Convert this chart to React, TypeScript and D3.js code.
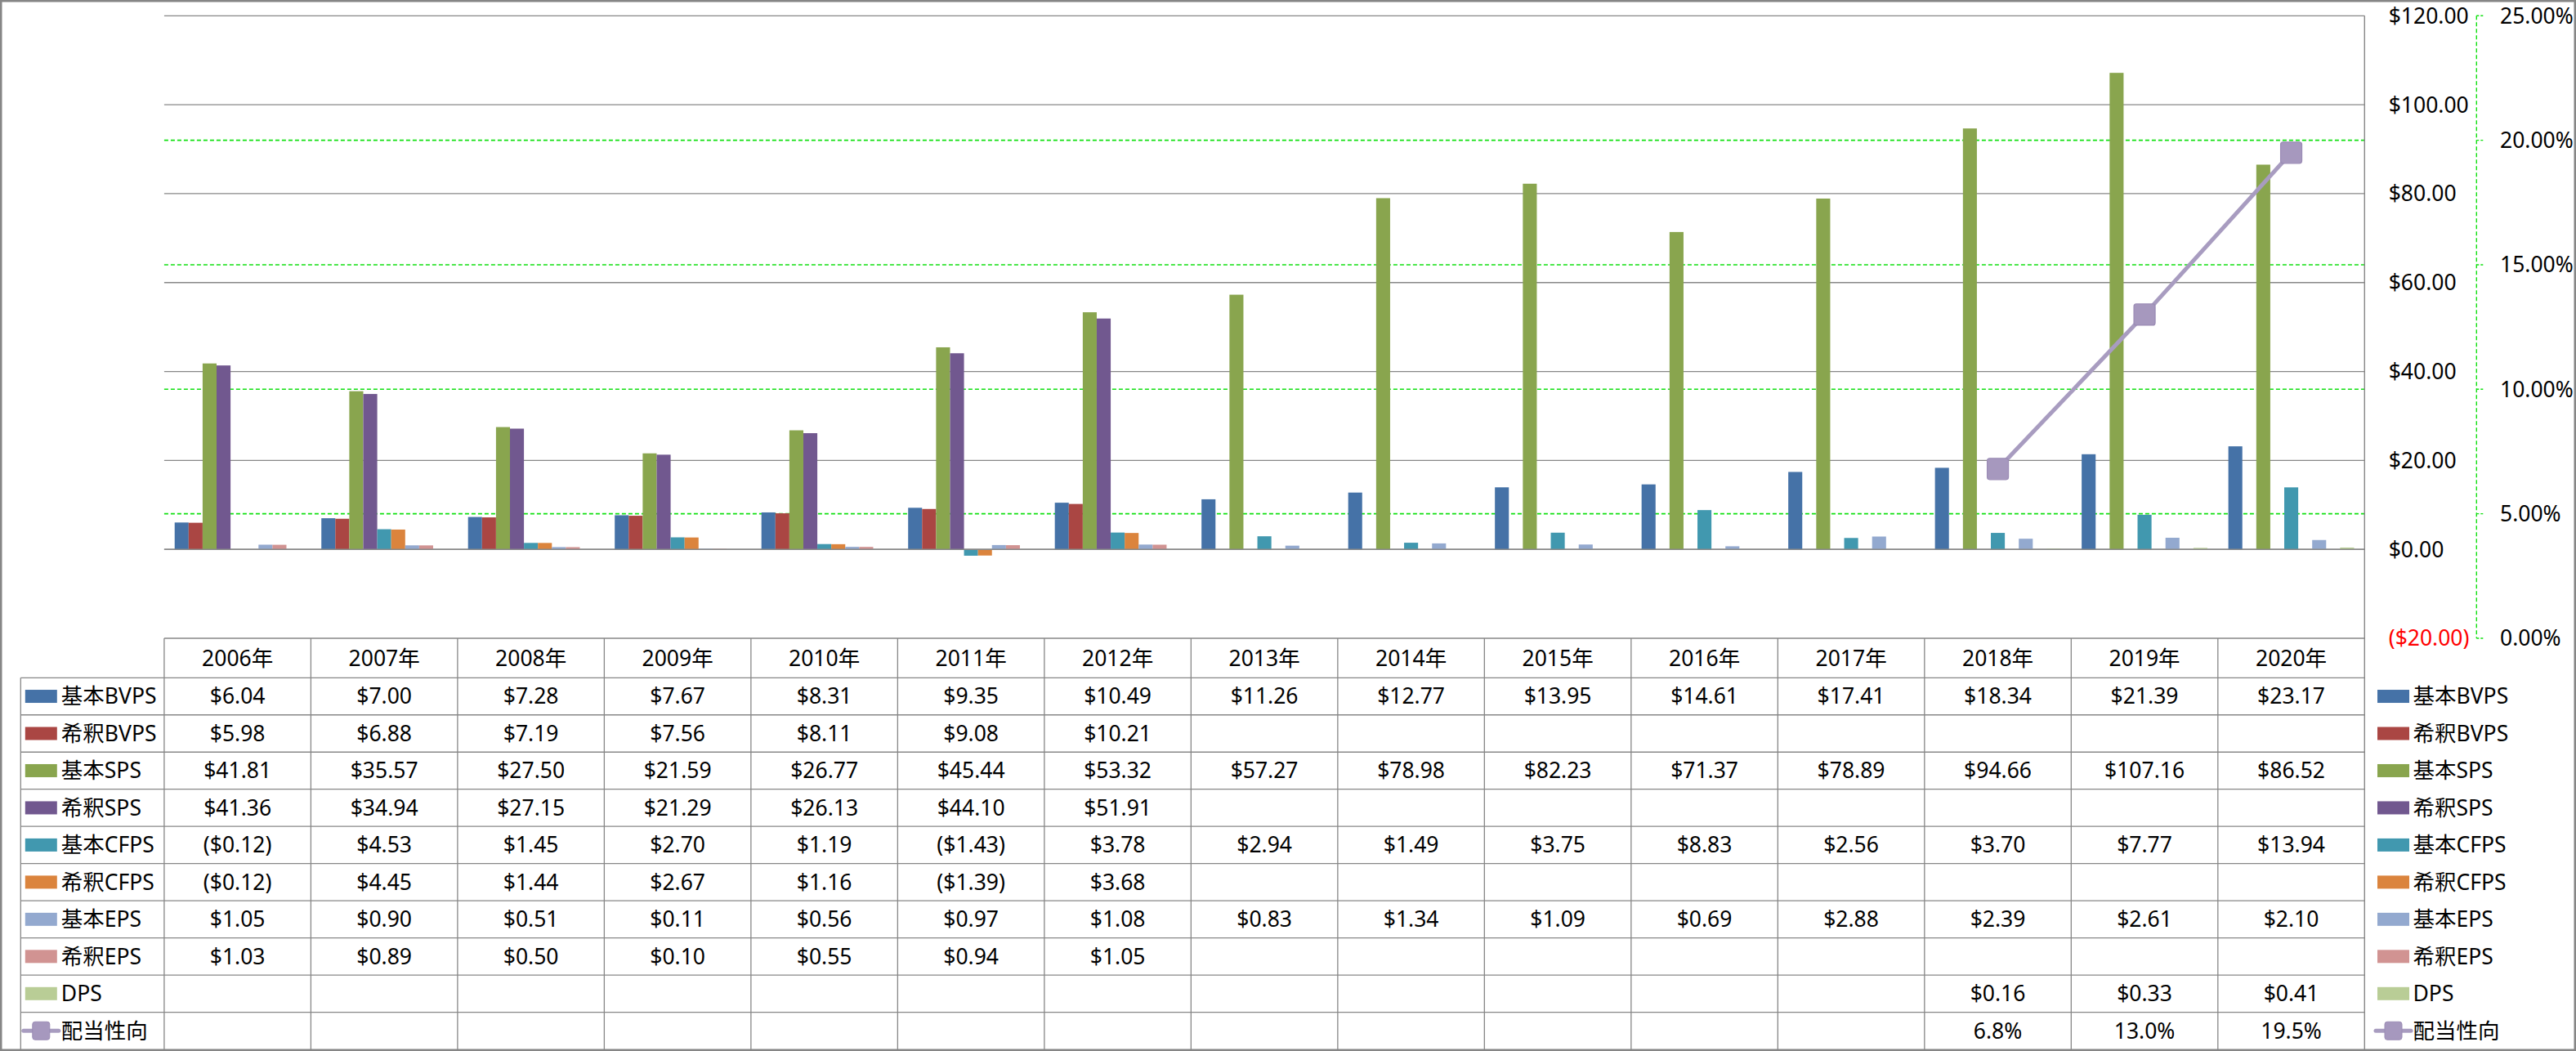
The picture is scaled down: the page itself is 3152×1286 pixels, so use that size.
import React from 'react';
import * as d3 from 'd3';

// ---------- data ----------
const YEARS = ['2006年', '2007年', '2008年', '2009年', '2010年', '2011年', '2012年', '2013年', '2014年', '2015年', '2016年', '2017年', '2018年', '2019年', '2020年'];
const BASIC_BVPS = [6.04, 7.0, 7.28, 7.67, 8.31, 9.35, 10.49, 11.26, 12.77, 13.95, 14.61, 17.41, 18.34, 21.39, 23.17];
const DILUTED_BVPS = [5.98, 6.88, 7.19, 7.56, 8.11, 9.08, 10.21, null, null, null, null, null, null, null, null];
const BASIC_SPS = [41.81, 35.57, 27.5, 21.59, 26.77, 45.44, 53.32, 57.27, 78.98, 82.23, 71.37, 78.89, 94.66, 107.16, 86.52];
const DILUTED_SPS = [41.36, 34.94, 27.15, 21.29, 26.13, 44.1, 51.91, null, null, null, null, null, null, null, null];
const BASIC_CFPS = [-0.12, 4.53, 1.45, 2.7, 1.19, -1.43, 3.78, 2.94, 1.49, 3.75, 8.83, 2.56, 3.7, 7.77, 13.94];
const DILUTED_CFPS = [-0.12, 4.45, 1.44, 2.67, 1.16, -1.39, 3.68, null, null, null, null, null, null, null, null];
const BASIC_EPS = [1.05, 0.9, 0.51, 0.11, 0.56, 0.97, 1.08, 0.83, 1.34, 1.09, 0.69, 2.88, 2.39, 2.61, 2.1];
const DILUTED_EPS = [1.03, 0.89, 0.5, 0.1, 0.55, 0.94, 1.05, null, null, null, null, null, null, null, null];
const DPS = [null, null, null, null, null, null, null, null, null, null, null, null, 0.16, 0.33, 0.41];
const PAYOUT_RATIO = [null, null, null, null, null, null, null, null, null, null, null, null, 6.8, 13.0, 19.5];

const BAR_NAMES = ['基本BVPS', '希釈BVPS', '基本SPS', '希釈SPS', '基本CFPS', '希釈CFPS', '基本EPS', '希釈EPS', 'DPS'];
const BAR_VALUES = [BASIC_BVPS, DILUTED_BVPS, BASIC_SPS, DILUTED_SPS, BASIC_CFPS, DILUTED_CFPS, BASIC_EPS, DILUTED_EPS, DPS];
const LINE_NAME = '配当性向';
const BAR_COLORS = ['#4572A7', '#AA4643', '#89A54E', '#71588F', '#4198AF', '#DB843D', '#93A9CF', '#D19392', '#B9CD96'];
const LINE_COLOR = '#A89CC0';
const MARKER_FILL = '#A698BE';
const MARKER_STROKE = '#9B8CB5';

const PRIMARY_DOMAIN = [-20, 120];
const PRIMARY_STEP = 20;
const SECONDARY_DOMAIN = [0, 25];
const SECONDARY_STEP = 5;

// ---------- layout ----------
const W = 3152;
const H = 1286;
const PLOT_L = 200.9;
const PLOT_R = 2893.3;
const PLOT_T = 19.3;
const PLOT_B = 781;
const ROW_TOP = 829.3;
const ROW_BOTTOM = 1284;
const LABEL_L = 25.3;
const FONT = "'Noto Sans', 'Noto Sans CJK JP', sans-serif";
const FS = 26.5;
const GRID = '#878787';
const GREEN = '#10E010';

const fmtMoney = (v: number) => (v < 0 ? `($${(-v).toFixed(2)})` : `$${v.toFixed(2)}`);
const fmtPct = (v: number) => `${v.toFixed(1)}%`;

export default function App() {
  const x0 = d3.scaleBand<string>().domain(YEARS).range([PLOT_L, PLOT_R]).paddingInner(0).paddingOuter(0);
  const x1 = d3
    .scaleBand<string>()
    .domain(BAR_NAMES)
    .range([0, x0.bandwidth()])
    .paddingInner(0)
    .paddingOuter(0.75);
  const y = d3.scaleLinear().domain(PRIMARY_DOMAIN).range([PLOT_B, PLOT_T]);
  const y2 = d3.scaleLinear().domain(SECONDARY_DOMAIN).range([PLOT_B, PLOT_T]);

  const primaryTicks = d3.range(PRIMARY_DOMAIN[0], PRIMARY_DOMAIN[1] + 0.001, PRIMARY_STEP);
  const secondaryTicks = d3.range(SECONDARY_DOMAIN[0], SECONDARY_DOMAIN[1] + 0.001, SECONDARY_STEP);

  const cx = (i: number) => (x0(YEARS[i]) as number) + x0.bandwidth() / 2;

  const linePts = PAYOUT_RATIO.map((v, i) => ({ v, i })).filter((d) => d.v != null) as { v: number; i: number }[];
  const linePath = d3
    .line<{ v: number; i: number }>()
    .x((d) => cx(d.i))
    .y((d) => y2(d.v))(linePts);

  const rowH = (ROW_BOTTOM - ROW_TOP) / (BAR_NAMES.length + 1);
  const rowNames = [...BAR_NAMES, LINE_NAME];
  const rowValues: (number | null)[][] = [...BAR_VALUES, PAYOUT_RATIO];
  const rowCenter = (r: number) => ROW_TOP + rowH * r + rowH / 2;
  const textDy = FS * 0.357;

  const legendKey = (r: number, kx: number) => {
    const cy = rowCenter(r);
    if (r < BAR_NAMES.length) {
      return <rect x={kx} y={cy - 8} width={39} height={16} fill={BAR_COLORS[r]} />;
    }
    return (
      <g>
        <line x1={kx - 2} x2={kx + 41} y1={cy} y2={cy} stroke={LINE_COLOR} strokeWidth={5} strokeLinecap="round" />
        <rect x={kx + 9} y={cy - 11} width={21} height={22} rx={3} fill={MARKER_FILL} stroke={MARKER_STROKE} strokeWidth={1} />
      </g>
    );
  };

  return (
    <svg
      width={W}
      height={H}
      style={{ position: 'fixed', left: 0, top: 0, display: 'block', background: '#fff' }}
      fontFamily={FONT}
      fontSize={FS}
    >
      <rect x={0} y={0} width={W} height={H} fill="#fff" />

      {/* primary gridlines */}
      {primaryTicks
        .filter((t) => t > PRIMARY_DOMAIN[0])
        .map((t) => (
          <line key={'g' + t} x1={PLOT_L} x2={PLOT_R} y1={y(t)} y2={y(t)} stroke={GRID} strokeWidth={1.3} />
        ))}
      {/* secondary gridlines (green dashed) */}
      {secondaryTicks
        .filter((t) => t > SECONDARY_DOMAIN[0] && t < SECONDARY_DOMAIN[1])
        .map((t) => (
          <line key={'s' + t} x1={PLOT_L} x2={PLOT_R} y1={y2(t)} y2={y2(t)} stroke={GREEN} strokeWidth={1.6} strokeDasharray="5,3" />
        ))}

      {/* bars */}
      {BAR_VALUES.map((vals, s) =>
        vals.map((v, i) => {
          if (v == null) return null;
          const bx = (x0(YEARS[i]) as number) + (x1(BAR_NAMES[s]) as number);
          const top = Math.min(y(v), y(0));
          const h = Math.max(Math.abs(y(v) - y(0)), 0.8);
          return <rect key={s + '-' + i} x={bx} y={top} width={x1.bandwidth()} height={h} fill={BAR_COLORS[s]} />;
        })
      )}

      {/* zero line */}
      <line x1={PLOT_L} x2={PLOT_R} y1={y(0)} y2={y(0)} stroke={GRID} strokeWidth={1.5} />

      {/* payout ratio line */}
      <path d={linePath || ''} fill="none" stroke={LINE_COLOR} strokeWidth={5} strokeLinejoin="round" />
      {linePts.map((d) => (
        <rect
          key={'m' + d.i}
          x={cx(d.i) - 13}
          y={y2(d.v) - 13}
          width={26}
          height={26}
          rx={3}
          fill={MARKER_FILL}
          stroke={MARKER_STROKE}
          strokeWidth={1.2}
        />
      ))}

      {/* primary axis line (right) */}
      <line x1={PLOT_R} x2={PLOT_R} y1={PLOT_T} y2={ROW_BOTTOM} stroke={GRID} strokeWidth={1.4} />
      {/* primary axis labels */}
      {primaryTicks.map((t) => (
        <text key={'pl' + t} x={2922.7} y={y(t) + textDy} fill={t < 0 ? '#FF0000' : '#000'}>
          {fmtMoney(t)}
        </text>
      ))}

      {/* secondary axis */}
      <line x1={3030.3} x2={3030.3} y1={PLOT_T} y2={PLOT_B} stroke={GREEN} strokeWidth={1.4} strokeDasharray="5,3" />
      {secondaryTicks.map((t) => (
        <g key={'sl' + t}>
          <line x1={3030.3} x2={3040} y1={y2(t)} y2={y2(t)} stroke={GREEN} strokeWidth={1.4} strokeDasharray="3,2" />
          <text x={3059} y={y2(t) + textDy} fill="#000">
            {`${t.toFixed(2)}%`}
          </text>
        </g>
      ))}

      {/* data table */}
      <line x1={PLOT_L} x2={PLOT_R} y1={PLOT_B} y2={PLOT_B} stroke={GRID} strokeWidth={1.4} />
      {d3.range(BAR_NAMES.length + 1).map((r) => (
        <line key={'h' + r} x1={LABEL_L} x2={PLOT_R} y1={ROW_TOP + rowH * r} y2={ROW_TOP + rowH * r} stroke={GRID} strokeWidth={1.3} />
      ))}
      <line x1={LABEL_L} x2={LABEL_L} y1={ROW_TOP} y2={ROW_BOTTOM} stroke={GRID} strokeWidth={1.3} />
      {YEARS.map((yr) => (
        <line key={'v' + yr} x1={x0(yr) as number} x2={x0(yr) as number} y1={PLOT_B} y2={ROW_BOTTOM} stroke={GRID} strokeWidth={1.3} />
      ))}
      {YEARS.map((yr, i) => (
        <text key={'yr' + yr} x={cx(i)} y={(PLOT_B + ROW_TOP) / 2 + textDy} textAnchor="middle" fill="#000">
          {yr}
        </text>
      ))}
      {rowNames.map((name, r) => (
        <g key={'row' + r}>
          {legendKey(r, 30.8)}
          <text x={74.8} y={rowCenter(r) + textDy} fill="#000">
            {name}
          </text>
          {rowValues[r].map((v, i) =>
            v == null ? null : (
              <text key={'c' + r + '-' + i} x={cx(i)} y={rowCenter(r) + textDy} textAnchor="middle" fill="#000">
                {r < BAR_NAMES.length ? fmtMoney(v) : fmtPct(v)}
              </text>
            )
          )}
          {legendKey(r, 2909)}
          <text x={2952.5} y={rowCenter(r) + textDy} fill="#000">
            {name}
          </text>
        </g>
      ))}

      {/* outer chart border */}
      <rect x={1.25} y={1.25} width={W - 2.5} height={H - 2.5} fill="none" stroke="#868686" strokeWidth={2.5} />
    </svg>
  );
}
